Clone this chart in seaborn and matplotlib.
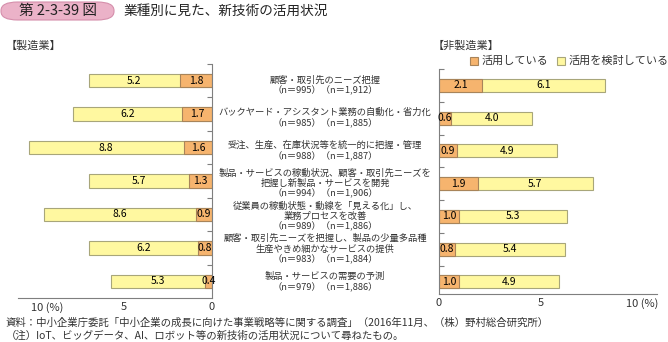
import matplotlib
matplotlib.use("Agg")
import matplotlib.pyplot as plt
from matplotlib.patches import FancyBboxPatch, Rectangle
from matplotlib.transforms import blended_transform_factory, ScaledTranslation
import seaborn as sns
import numpy as np

# data
categories = [
    "顧客・取引先のニーズ把握",
    "バックヤード・アシスタント業務の自動化・省力化",
    "受注、生産、在庫状況等を統一的に把握・管理",
    "製品・サービスの稼動状況、顧客・取引先ニーズを\n把握し新製品・サービスを開発",
    "従業員の稼動状態・動線を「見える化」し、\n業務プロセスを改善",
    "顧客・取引先ニーズを把握し、製品の少量多品種\n生産やきめ細かなサービスの提供",
    "製品・サービスの需要の予測",
]
n_mfg = ["995", "985", "988", "994", "989", "983", "979"]
n_non = ["1,912", "1,885", "1,887", "1,906", "1,886", "1,884", "1,886"]

mfg_used = [1.8, 1.7, 1.6, 1.3, 0.9, 0.8, 0.4]
mfg_consider = [5.2, 6.2, 8.8, 5.7, 8.6, 6.2, 5.3]
non_used = [2.1, 0.6, 0.9, 1.9, 1.0, 0.8, 1.0]
non_consider = [6.1, 4.0, 4.9, 5.7, 5.3, 5.4, 4.9]

series_names = ["活用している", "活用を検討している"]

ORANGE = "#F6B46E"
ORANGE_EDGE = "#A8845A"
YELLOW = "#FFF8A0"
YELLOW_EDGE = "#A8A67A"
AXIS = "#7F7F7F"
TEXT = "#333333"

sns.set_theme(style="white")
plt.rcParams["font.family"] = ["Noto Sans CJK JP", "DejaVu Sans"]

W, H = 668, 342
fig = plt.figure(figsize=(W / 100, H / 100), dpi=100)


def px_box(x0, y0, x1, y1):
    # pixel box (top-left origin) -> figure fraction rect
    return [x0 / W, 1 - y1 / H, (x1 - x0) / W, (y1 - y0) / H]


axL = fig.add_axes(px_box(18, 64, 212, 298))
axR = fig.add_axes(px_box(439, 69, 657, 294))


def draw_side(ax, used, consider):
    total = [u + c for u, c in zip(used, consider)]
    sns.barplot(x=total, y=categories, orient="h", color=YELLOW,
                edgecolor=YELLOW_EDGE, linewidth=0.8, width=0.4,
                saturation=1, ax=ax)
    sns.barplot(x=used, y=categories, orient="h", color=ORANGE,
                edgecolor=ORANGE_EDGE, linewidth=0.8, width=0.4,
                saturation=1, ax=ax)
    for i, (u, c) in enumerate(zip(used, consider)):
        ax.text(u / 2, i, f"{u:.1f}", ha="center", va="center",
                fontsize=7.5, color="black")
        ax.text(u + c / 2, i, f"{c:.1f}", ha="center", va="center",
                fontsize=7.5, color="black")
    ax.set_xlabel("")
    ax.set_ylabel("")
    ax.set_yticks([])
    ax.set_yticks(np.arange(-0.5, 6, 1), minor=True)
    ax.tick_params(axis="y", which="minor", direction="in", length=3.5,
                   width=0.8, color=AXIS, left=True, right=True)
    ax.tick_params(axis="x", direction="in", length=3.5, width=0.8,
                   color=AXIS, labelsize=8, labelcolor=TEXT, pad=3)
    for s in ax.spines.values():
        s.set_color(AXIS)
        s.set_linewidth(0.8)
    ax.spines["top"].set_visible(False)


# manufacturing (left, reversed)
draw_side(axL, mfg_used, mfg_consider)
axL.set_xlim(11, 0)
axL.set_ylim(6.5, -0.5)
axL.spines["left"].set_visible(False)
axL.yaxis.set_ticks_position("right")
axL.tick_params(axis="y", which="minor", left=False, right=True)
axL.set_xticks([10, 5, 0], ["10 (%)", "5", "0"])
lbl = axL.get_xticklabels()[0]
lbl.set_horizontalalignment("left")
lbl.set_transform(lbl.get_transform() +
                  ScaledTranslation(-5 / 100, 0, fig.dpi_scale_trans))

# non-manufacturing (right)
draw_side(axR, non_used, non_consider)
axR.set_xlim(0, 10.74)
axR.set_ylim(6.37, -0.5)
axR.spines["right"].set_visible(False)
axR.yaxis.set_ticks_position("left")
axR.tick_params(axis="y", which="minor", left=True, right=False)
axR.set_xticks([0, 5, 10], ["0", "5", "10 (%)"])

# category labels in the middle
tr = blended_transform_factory(fig.transFigure, axR.transData)
for i, cat in enumerate(categories):
    label = f"{cat}\n（n＝{n_mfg[i]}）（n＝{n_non[i]}）"
    fig.text(325 / W, i, label, transform=tr, ha="center", va="center",
             multialignment="center", fontsize=6.7, color=TEXT,
             linespacing=1.15)

# title block
badge = FancyBboxPatch((1 / W, 1 - 20 / H), 113 / W, 18 / H,
                       boxstyle="round,pad=0,rounding_size=0.025",
                       transform=fig.transFigure, facecolor="#EBB2C8",
                       edgecolor="#D58EAB", linewidth=0.8)
fig.patches.append(badge)
fig.text(58 / W, 1 - 11 / H, "第 2-3-39 図", ha="center", va="center",
         fontsize=10.5, color="#222222")
fig.text(124 / W, 1 - 11 / H, "業種別に見た、新技術の活用状況",
         ha="left", va="center", fontsize=9.8, color="#222222")

fig.text(6 / W, 1 - 46 / H, "【製造業】", ha="left", va="center",
         fontsize=8, color=TEXT)
fig.text(433 / W, 1 - 46 / H, "【非製造業】", ha="left", va="center",
         fontsize=8, color=TEXT)

# legend
for x0, color, edge, name in [(470, ORANGE, ORANGE_EDGE, series_names[0]),
                              (557, YELLOW, YELLOW_EDGE, series_names[1])]:
    fig.patches.append(Rectangle((x0 / W, 1 - 65 / H), 8 / W, 8 / H,
                                 transform=fig.transFigure, facecolor=color,
                                 edgecolor=edge, linewidth=0.8))
    fig.text((x0 + 12) / W, 1 - 61 / H, name, ha="left", va="center",
             fontsize=8, color=TEXT)

# footer
fig.text(6 / W, 1 - 323 / H,
         "資料：中小企業庁委託「中小企業の成長に向けた事業戦略等に関する調査」（2016年11月、（株）野村総合研究所）",
         ha="left", va="center", fontsize=7.5, color=TEXT)
fig.text(6 / W, 1 - 336 / H,
         "（注）IoT、ビッグデータ、AI、ロボット等の新技術の活用状況について尋ねたもの。",
         ha="left", va="center", fontsize=7.5, color=TEXT)

fig.savefig("out.png", dpi=100)
